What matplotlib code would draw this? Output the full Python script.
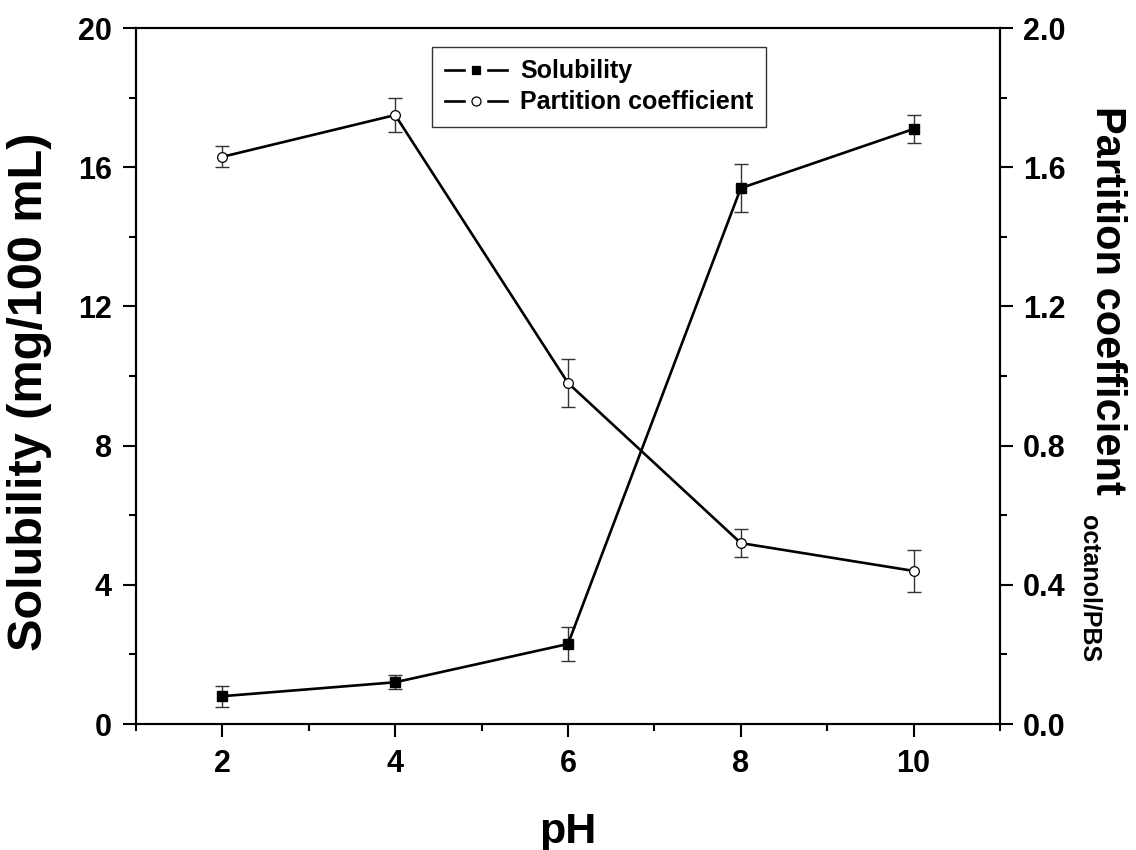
import numpy as np
from matplotlib import pyplot as plt
from matplotlib.lines import Line2D
from matplotlib.legend_handler import HandlerTuple
from matplotlib.ticker import MultipleLocator, FormatStrFormatter

plt.rcParams["font.family"] = ["Liberation Sans", "DejaVu Sans"]
plt.rcParams["font.weight"] = "bold"

#Data: solubility and octanol/PBS partition coefficient vs pH
ph = [2, 4, 6, 8, 10]
solubility = [0.8, 1.2, 2.3, 15.4, 17.1]
solubility_err = [0.3, 0.2, 0.5, 0.7, 0.4]
partition = [1.63, 1.75, 0.98, 0.52, 0.44]
partition_err = [0.03, 0.05, 0.07, 0.04, 0.06]

fig = plt.figure(figsize=(11.36, 8.5), dpi=100)
ax = fig.add_axes([0.1197, 0.1482, 0.7606, 0.8188])
ax2 = ax.twinx()

err_kw = dict(ecolor="#333333", elinewidth=1.0, capsize=4.7, capthick=1.0)
ax.errorbar(ph, solubility, solubility_err, fmt="none", zorder=2, **err_kw)
ax.plot(ph, solubility, color="k", lw=1.9, marker="s", ms=6.5, mfc="k", mec="k", zorder=3)

ax2.errorbar(ph, partition, partition_err, fmt="none", zorder=2, **err_kw)
ax2.plot(ph, partition, color="k", lw=1.9, marker="o", ms=7, mfc="white", mec="k", mew=0.9, zorder=3)

#Axis limits and ticks
ax.set_xlim(1, 11)
ax.set_ylim(0, 20)
ax2.set_ylim(0, 2)
ax.xaxis.set_major_locator(MultipleLocator(2))
ax.xaxis.set_minor_locator(MultipleLocator(1))
ax.set_xticks([2, 4, 6, 8, 10])
ax.yaxis.set_major_locator(MultipleLocator(4))
ax.yaxis.set_minor_locator(MultipleLocator(2))
ax2.yaxis.set_major_locator(MultipleLocator(0.4))
ax2.yaxis.set_minor_locator(MultipleLocator(0.2))
ax2.yaxis.set_major_formatter(FormatStrFormatter("%.1f"))

for a in [ax, ax2]:
    for s in a.spines.values():
        s.set_linewidth(1.5)
    a.tick_params(which="major", direction="out", length=9.5, width=1.5, labelsize=22)
    a.tick_params(which="minor", direction="out", length=5, width=1.5)
ax.tick_params(axis="y", pad=8)
ax.tick_params(axis="x", pad=8.5)
ax2.tick_params(axis="y", pad=7)
for lab in ax.get_xticklabels() + ax.get_yticklabels() + ax2.get_yticklabels():
    lab.set_fontweight("bold")

#Axis titles
fig.text(0.5, 0.0082, "pH", ha="center", va="baseline", fontsize=31, fontweight="bold")
fig.text(0.026, 0.539, "Solubility (mg/100 mL)", rotation=90, ha="center", va="center",
         fontsize=35, fontweight="bold")
fig.text(0.9745, 0.647, "Partition coefficient", rotation=270, ha="center", va="center",
         fontsize=30, fontweight="bold")
fig.text(0.9595, 0.308, "octanol/PBS", rotation=270, ha="center", va="center",
         fontsize=18, fontweight="bold")

#Legend with a gap between line and marker
def legend_handle(marker, face, size):
    base = Line2D([], [], color="k", lw=1.9)
    gap = Line2D([], [], ls="none", marker=marker, ms=size + 8, mfc="white", mec="white")
    mark = Line2D([], [], ls="none", marker=marker, ms=size, mfc=face, mec="k", mew=0.9)
    return (base, gap, mark)

handles = [legend_handle("s", "k", 6), legend_handle("o", "white", 6.5)]
labels = ["Solubility", "Partition coefficient"]
leg = ax.legend(handles, labels, handler_map={tuple: HandlerTuple(ndivide=1, pad=0)},
                loc="upper center", bbox_to_anchor=(0.536, 0.973), borderaxespad=0,
                prop={"weight": "bold", "size": 18}, handlelength=2.5, handletextpad=0.5,
                labelspacing=0.28, borderpad=0.5, fancybox=False, framealpha=1,
                edgecolor="#333333")
leg.get_frame().set_linewidth(1.0)

plt.savefig("out.png", dpi=100)
